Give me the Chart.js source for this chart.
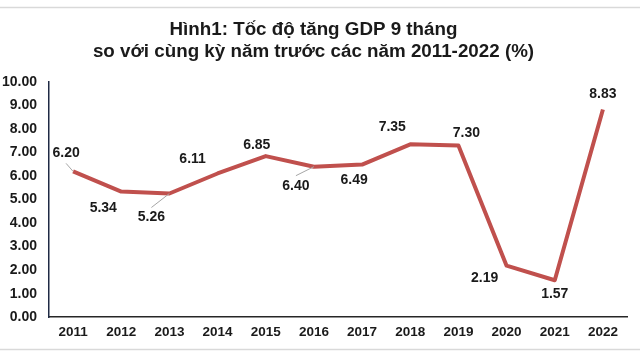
<!DOCTYPE html>
<html>
<head>
<meta charset="utf-8">
<script src="https://cdn.jsdelivr.net/npm/chart.js@4/dist/chart.umd.min.js"></script>
<style>
html,body{margin:0;padding:0;background:#fff;}
#wrap{width:640px;height:360px;position:relative;}
</style>
</head>
<body>
<div id="wrap"><canvas id="c" width="640" height="360"></canvas></div>
<script>
// ---- data ----
const categories = ['2011','2012','2013','2014','2015','2016','2017','2018','2019','2020','2021','2022'];
const gdpGrowth = [6.20, 5.34, 5.26, 6.11, 6.85, 6.40, 6.49, 7.35, 7.30, 2.19, 1.57, 8.83];
const titleLines = ['Hình1: Tốc độ tăng GDP 9 tháng', 'so với cùng kỳ năm trước các năm 2011-2022 (%)'];

// ---- label placement (style only: pixel offsets from each point) ----
const labelDx = [-7, -18, -18, -25, -9, -18, -8, -18, 8, -22, 0, 0];
const labelDy = [-18, 17, 24, -14, -11, 19, 16, -17, -12, 12, 14, -15];
const labelLeader = [true, false, true, false, false, true, false, false, false, false, false, false];

const FONT = '"Liberation Sans", Arial, sans-serif';

const decor = {
  id: 'decor',
  beforeDraw(chart) {
    const ctx = chart.ctx;
    ctx.save();
    ctx.fillStyle = '#ffffff';
    ctx.fillRect(0, 0, chart.width, chart.height);
    ctx.strokeStyle = '#d9d9d9';
    ctx.lineWidth = 1.5;
    ctx.beginPath();
    ctx.moveTo(0, 7.5); ctx.lineTo(chart.width, 7.5);
    ctx.moveTo(0, 349.5); ctx.lineTo(chart.width, 349.5);
    ctx.stroke();
    ctx.restore();
  }
};

const valueLabels = {
  id: 'valueLabels',
  afterDatasetsDraw(chart) {
    const ctx = chart.ctx;
    const meta = chart.getDatasetMeta(0);
    ctx.save();
    ctx.font = 'bold 14px ' + FONT;
    ctx.textAlign = 'center';
    ctx.textBaseline = 'middle';
    meta.data.forEach((pt, i) => {
      const v = chart.data.datasets[0].data[i];
      const lx = pt.x + labelDx[i];
      const ly = pt.y + labelDy[i];
      if (labelLeader[i]) {
        const sy = labelDy[i] < 0 ? ly + 10 : ly - 10;
        ctx.strokeStyle = '#a6a6a6';
        ctx.lineWidth = 1;
        ctx.beginPath();
        ctx.moveTo(lx, sy);
        ctx.lineTo(pt.x, pt.y);
        ctx.stroke();
      }
      ctx.fillStyle = '#1a1a1a';
      ctx.fillText(v.toFixed(2), lx, ly);
    });
    ctx.restore();
  }
};

new Chart(document.getElementById('c'), {
  type: 'line',
  data: {
    labels: categories,
    datasets: [{
      data: gdpGrowth,
      borderColor: '#C0504D',
      backgroundColor: '#C0504D',
      borderWidth: 4,
      pointRadius: 0,
      tension: 0,
      borderJoinStyle: 'round'
    }]
  },
  options: {
    responsive: false,
    animation: false,
    devicePixelRatio: 1,
    layout: { padding: { left: 0, right: 13, top: 0, bottom: 12.6 } },
    plugins: {
      legend: { display: false },
      tooltip: { enabled: false },
      title: {
        display: true,
        text: titleLines,
        color: '#1a1a1a',
        font: { family: FONT, size: 18.8, weight: 'bold', lineHeight: '22px' },
        padding: { top: 19, bottom: 19 }
      }
    },
    scales: {
      x: {
        offset: true,
        grid: { display: false, drawTicks: false },
        border: { display: true, color: '#262626', width: 1.5 },
        ticks: { color: '#1a1a1a', padding: 7, font: { family: FONT, size: 13.5, weight: 'bold' }, maxRotation: 0 }
      },
      y: {
        min: 0, max: 10,
        grid: { display: false, drawTicks: false },
        border: { display: true, color: '#1f2a44', width: 1.5 },
        ticks: {
          stepSize: 1, color: '#1a1a1a', padding: 12,
          font: { family: FONT, size: 14, weight: 'bold' },
          callback: v => Number(v).toFixed(2)
        },
        afterFit(scale) { scale.width = 49; }
      }
    }
  },
  plugins: [decor, valueLabels]
});
</script>
</body>
</html>
